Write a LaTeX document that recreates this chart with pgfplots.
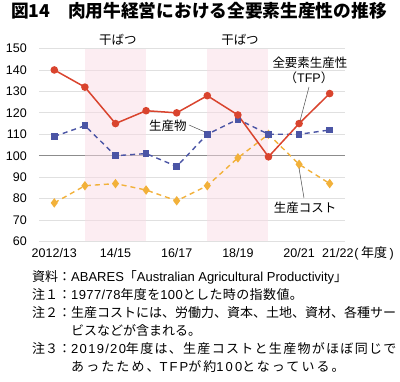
\documentclass[border=0pt]{standalone}
\usepackage{pgfplots}
\pgfplotsset{compat=1.18}
\usepackage{fontspec}
\setmainfont{Liberation Sans}
\newfontfamily\cjk{Noto Sans CJK JP}
\newcommand\LS{0}
\newcommand\J[1]{{\cjk\addfontfeatures{LetterSpace=\LS}#1}}
\newcommand\SetLS[1]{\renewcommand\LS{#1}\addfontfeatures{LetterSpace=#1}}
\definecolor{tfp}{HTML}{D9442E}
\definecolor{outp}{HTML}{4B55A5}
\definecolor{cost}{HTML}{F2B13A}
\definecolor{drought}{HTML}{F9DBE5}
\definecolor{lead}{HTML}{505050}
\begin{document}
\begin{tikzpicture}
\path[use as bounding box] (0,0) rectangle (400pt,-382pt);
\begin{axis}[
  at={(39pt,-241.5pt)}, anchor=south west,
  scale only axis, width=306pt, height=193pt,
  xmin=-0.5, xmax=9.5, ymin=60, ymax=150,
  ytick={60,70,...,150},
  xtick={0,2,4,6,8},
  xticklabels={2012/13,14/15,16/17,18/19,20/21},
  axis line style={draw=none},
  major tick length=0pt,
  ymajorgrids,
  grid style={color=black!12, line width=0.7pt},
  extra y ticks={100}, extra y tick labels={},
  extra y tick style={grid style={color=black!45, line width=1pt}},
  tick label style={font=\fontsize{12.5}{12.5}\selectfont},
  /pgf/number format/assume math mode=true,
  yticklabel style={inner sep=0pt, xshift=-12pt},
  xticklabel style={inner sep=0pt, anchor=base, yshift=-16pt},
  clip=false,
]
\fill[drought, fill opacity=0.5] (axis cs:1,60) rectangle (axis cs:3,150);
\fill[drought, fill opacity=0.5] (axis cs:5,60) rectangle (axis cs:7,150);
% production cost
\addplot[cost, line width=1.4pt, dash pattern=on 5pt off 4pt, mark=diamond*, mark size=3.6pt, mark options={solid}]
  coordinates {(0,78) (1,86) (2,87) (3,84) (4,79) (5,86) (6,99) (7,110) (8,96) (9,87)};
% output
\addplot[outp, line width=1.4pt, dash pattern=on 5pt off 4pt, mark=square*, mark size=2.6pt, mark options={solid}]
  coordinates {(0,109) (1,114) (2,100) (3,101) (4,95) (5,110) (6,117) (7,110) (8,110) (9,112)};
% TFP
\addplot[tfp, line width=1.5pt, mark=*, mark size=3pt]
  coordinates {(0,140) (1,132) (2,115) (3,121) (4,120) (5,128) (6,119) (7,99.5) (8,115) (9,129)};
\end{axis}
% x label for last category
\node[anchor=base west, inner sep=0pt, font=\fontsize{12.5}{12.5}\selectfont] at (322pt,-257.5pt) {21/22\hspace{1pt}(\hspace{2.5pt}\J{\fontsize{13}{13}\selectfont 年度}\hspace{2.5pt})};
% title
\node[anchor=base west, inner sep=0pt, font=\cjk\bfseries\fontsize{17.7}{18}\selectfont] at (11pt,-18pt) {図14　肉用牛経営における全要素生産性の推移};
% drought labels
\node[font=\cjk\fontsize{12.5}{12.5}\selectfont, inner sep=0pt] at (118pt,-40pt) {干ばつ};
\node[font=\cjk\fontsize{12.5}{12.5}\selectfont, inner sep=0pt] at (240pt,-40pt) {干ばつ};
% annotations
\node[font=\cjk\fontsize{12.5}{12.5}\selectfont, inner sep=0pt] at (168pt,-126pt) {生産物};
\draw[lead, line width=0.5pt] (189pt,-125pt) -- (205pt,-132pt);
\node[font=\cjk\fontsize{12.5}{12.5}\selectfont, inner sep=0pt] at (310pt,-63pt) {全要素生産性};
\node[font=\fontsize{12.5}{12.5}\selectfont, inner sep=0pt] at (309pt,-78pt) {\J{（}TFP\J{）}};
\draw[lead, line width=0.5pt] (309pt,-87pt) -- (300pt,-121pt);
\node[font=\cjk\fontsize{12.5}{12.5}\selectfont, inner sep=0pt] at (305pt,-208pt) {生産コスト};
\draw[lead, line width=0.5pt] (304pt,-198pt) -- (299pt,-168pt);
% notes
\begin{scope}[every node/.style={anchor=base west, inner sep=0pt, font=\fontsize{13}{15}\selectfont}]
\node at (32pt,-281.5pt) {\J{資料：}ABARES\J{「}Australian Agricultural Productivity\J{」}};
\node at (32pt,-299.5pt) {\J{注１：}\SetLS{3}1977/78\J{年度を}100\J{とした時の指数値。}};
\node at (32pt,-317.5pt) {\J{注２：生産コストには、労働力、資本、土地、資材、各種サー}};
\node at (71pt,-335.5pt) {\J{ビスなどが含まれる。}};
\node at (32pt,-353.5pt) {\J{注３：}\SetLS{10}2019/20\J{年度は、生産コストと生産物がほぼ同じで}};
\node at (71pt,-371.5pt) {\SetLS{16}\J{あったため、}TFP\J{が約}100\J{となっている。}};
\end{scope}
\end{tikzpicture}
\end{document}
